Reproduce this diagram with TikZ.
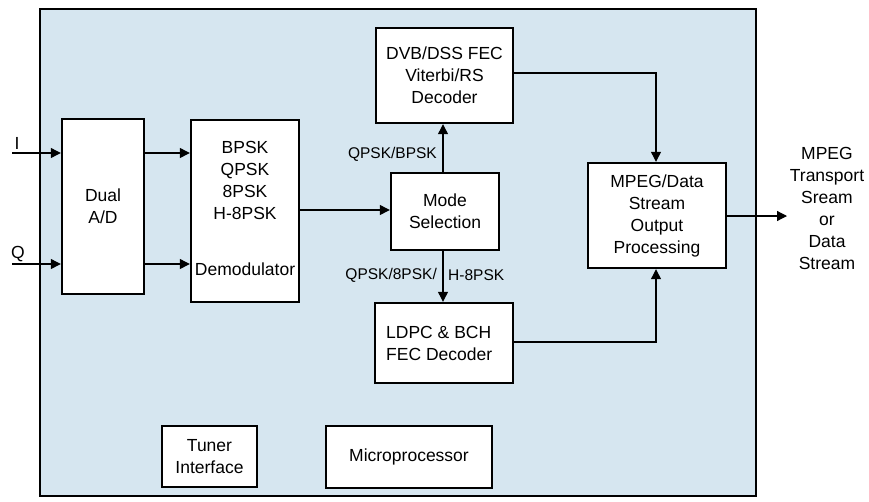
\documentclass[tikz,border=0pt]{standalone}
\usepackage{fontspec}
\setmainfont{Liberation Sans}
\usetikzlibrary{arrows.meta,calc}
\definecolor{panel}{RGB}{214,230,240}
\tikzset{
  blk/.style={draw=black, line width=2.4pt, fill=white, rectangle, inner sep=0pt, align=center,
    font=\fontsize{17.5}{22}\selectfont},
  txt/.style={inner sep=0pt, align=center, font=\fontsize{17.5}{22}\selectfont},
  lbl/.style={inner sep=0pt, font=\fontsize{15.5}{18}\selectfont},
  arr/.style={line width=1.2pt, -{Triangle[length=10pt,width=10pt]}},
  ln/.style={line width=1.2pt}
}
\begin{document}
\begin{tikzpicture}[x=1pt,y=-1pt]
\useasboundingbox (0,0) rectangle (869,501);
\fill[white] (0,0) rectangle (869,501);
\draw[line width=2pt, fill=panel] (40,9) rectangle (756,496);

\node[blk, minimum width=82pt, minimum height=175pt] (ad) at (103,206.5) {Dual\\A/D};
\node[blk, minimum width=108pt, minimum height=182pt] (dm) at (245,211) {};
\node[txt] (dmt) at (245,180.5) {BPSK\\QPSK\\8PSK\\H-8PSK};
\node[txt] (dml) at (245,269) {Demodulator};
\node[blk, minimum width=137pt, minimum height=95pt] (dvb) at (444.5,75.5) {DVB/DSS FEC\\Viterbi/RS\\Decoder};
\node[blk, minimum width=108pt, minimum height=77pt] (mode) at (445,211.5) {Mode\\Selection};
\node[blk, minimum width=138pt, minimum height=80pt] (ldpc) at (444,343) {};
\node[txt, align=left, anchor=west] (ldpct) at (386,343.5) {LDPC \& BCH\\FEC Decoder};
\node[blk, minimum width=138pt, minimum height=105pt] (mpeg) at (657,215.5) {MPEG/Data\\Stream\\Output\\Processing};
\node[blk, minimum width=95pt, minimum height=61pt] (tuner) at (209.5,456.5) {Tuner\\Interface};
\node[blk, minimum width=166pt, minimum height=62pt] (micro) at (409,457) {Microprocessor};

\node[txt] (outt) at (827,208) {MPEG\\Transport\\Sream\\or\\Data\\Stream};
\node[txt] (ilab) at (17,143) {I};
\node[txt] (qlab) at (18,254) {Q};

\coordinate (Iin) at (12,153);
\coordinate (Qin) at (12,264);
\coordinate (out) at (787,216);

\draw[arr] (Iin) -- (Iin -| ad.west);
\draw[arr] (Qin) -- (Qin -| ad.west);
\draw[arr] (ad.east |- Iin) -- (dm.west |- Iin);
\draw[arr] (ad.east |- Qin) -- (dm.west |- Qin);
\draw[arr] (dm.east |- 0,210) -- (mode.west |- 0,210);
\draw[arr] ($(mode.north)+(-2,0)$) -- ($(mode.north |- dvb.south)+(-2,0)$);
\draw[arr] ($(mode.south)+(-2,0)$) -- ($(mode.south |- ldpc.north)+(-2,0)$);
\draw[arr] (dvb.east |- 0,73) -| ($(mpeg.north)+(-1,0)$);
\draw[arr] (ldpc.east |- 0,342) -| ($(mpeg.south)+(-1,0)$);
\draw[arr] (mpeg.east |- out) -- (out);

\node[lbl, anchor=east] (l1) at (437,154) {QPSK/BPSK};
\node[lbl, anchor=east] (l2) at (437,275) {QPSK/8PSK/};
\node[lbl, anchor=west] (l3) at (448,275) {H-8PSK};
\end{tikzpicture}
\end{document}
